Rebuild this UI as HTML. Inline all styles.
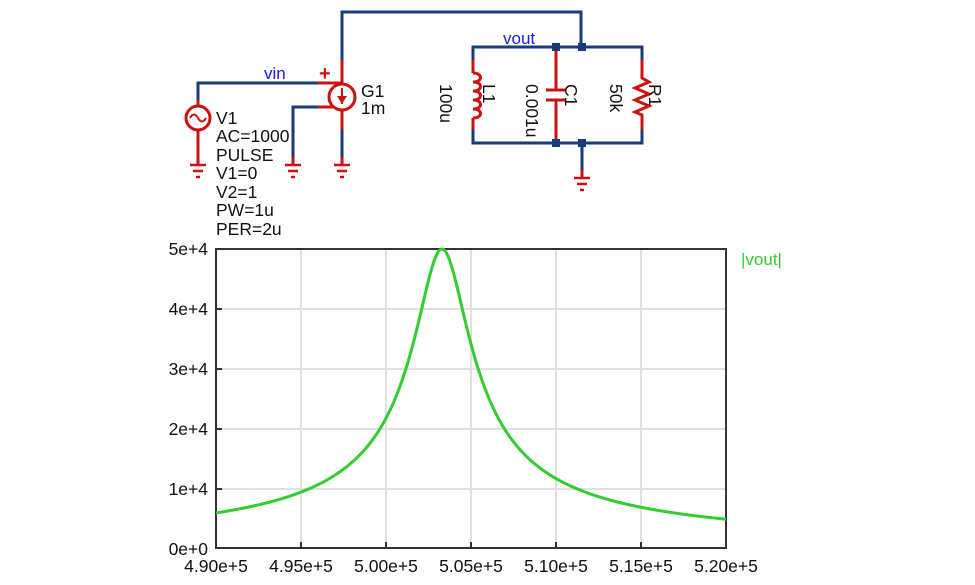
<!DOCTYPE html>
<html><head><style>
html,body{margin:0;padding:0;background:#fff;}
svg{display:block;font-family:"Liberation Sans",sans-serif;}
</style></head><body>
<svg width="975" height="585" viewBox="0 0 975 585" xmlns="http://www.w3.org/2000/svg">
<g fill="none" stroke-width="3">
<g stroke="#1a3a7a">
<polyline points="342,60 342,12 581,12 581,47"/>
<polyline points="198,100 198,83 318,83"/>
<polyline points="318,107 293,107 293,157"/>
<line x1="342" y1="130" x2="342" y2="157"/>
<polyline points="473,60 473,47 642,47 642,60"/>
<polyline points="473,130 473,143 642,143 642,130"/>
<line x1="582" y1="143" x2="582" y2="170"/>
</g>
<g stroke="#cc1111">
<line x1="318" y1="83" x2="342" y2="83"/>
<line x1="342" y1="60" x2="342" y2="84"/>
<circle cx="342" cy="97" r="13"/>
<line x1="318" y1="107" x2="333" y2="107"/>
<line x1="342" y1="110" x2="342" y2="130"/>
<line x1="342" y1="88" x2="342" y2="104" stroke-width="2"/>
<circle cx="198" cy="118" r="12"/>
<line x1="198" y1="100" x2="198" y2="106"/>
<line x1="198" y1="130" x2="198" y2="165"/>
<path d="M190,118 q4,-7 8,0 q4,7 8,0" stroke-width="2"/>
<line x1="293" y1="157" x2="293" y2="165"/>
<line x1="342" y1="157" x2="342" y2="165"/>
<line x1="473" y1="60" x2="473" y2="73"/>
<path d="M473,73 c10,0 10,9 0,9 c10,0 10,9 0,9 c10,0 10,9 0,9 c10,0 10,9 0,9 c10,0 10,9 0,9" />
<line x1="473" y1="118" x2="473" y2="130"/>
<line x1="556" y1="47" x2="556" y2="90"/>
<line x1="546" y1="90" x2="566" y2="90"/>
<line x1="546" y1="100" x2="566" y2="100"/>
<line x1="556" y1="100" x2="556" y2="143"/>
<polyline points="642,60 642,78 649,82 635,88 649,94 635,100 649,106 635,112 642,115 642,130"/>
<line x1="582" y1="170" x2="582" y2="178"/>
</g>
<g stroke="#cc1111" stroke-width="2.5">
<path d="M190,165h16M193,171h10M196,177h4"/>
<path d="M285,165h16M288,171h10M291,177h4"/>
<path d="M334,165h16M337,171h10M340,177h4"/>
<path d="M574,178h16M577,184h10M580,190h4"/>
</g>
</g>
<polygon points="337,96 347,96 342,104" fill="#cc1111"/>
<g fill="#1a3a7a"><rect x="552" y="43" width="8" height="8"/><rect x="578" y="43" width="8" height="8"/><rect x="552" y="139" width="8" height="8"/><rect x="578" y="139" width="8" height="8"/></g>
<text x="319" y="80" fill="#cc1111" font-size="20" font-weight="bold">+</text>
<text x="264" y="79" fill="#1a1aee" font-size="17">vin</text>
<text x="503" y="44" fill="#1a1aee" font-size="17">vout</text>
<g font-size="17.5" fill="#111">
<text x="361" y="97">G1</text><text x="361" y="114">1m</text>
<text x="216" y="124">V1</text><text x="216" y="142">AC=1000</text><text x="216" y="161">PULSE</text>
<text x="216" y="179">V1=0</text><text x="216" y="198">V2=1</text><text x="216" y="216">PW=1u</text><text x="216" y="235">PER=2u</text>
<text transform="translate(483,84) rotate(90)">L1</text>
<text transform="translate(440,84) rotate(90)">100u</text>
<text transform="translate(565,84) rotate(90)">C1</text>
<text transform="translate(526,84) rotate(90)">0.001u</text>
<text transform="translate(649,84) rotate(90)">R1</text>
<text transform="translate(610,84) rotate(90)">50k</text>
</g>
<g stroke="#e0e0e0" stroke-width="2">
<path d="M301,249V548M386,249V548M471,249V548M556,249V548M641,249V548M216,309H726M216,369H726M216,429H726M216,489H726"/>
</g>
<g stroke="#333" stroke-width="2">
<rect x="216" y="249" width="510" height="299" fill="none"/>
<path d="M216,309h6M216,369h6M216,429h6M216,489h6M301,548v-6M386,548v-6M471,548v-6M556,548v-6M641,548v-6"/>
</g>
<path id="curve" fill="none" stroke="#33cc33" stroke-width="3" d=""/>
<g font-size="17.5" fill="#111" text-anchor="end">
<text x="208" y="255">5e+4</text><text x="208" y="315">4e+4</text><text x="208" y="375">3e+4</text>
<text x="208" y="435">2e+4</text><text x="208" y="495">1e+4</text><text x="208" y="555">0e+0</text>
</g>
<g font-size="17.5" fill="#111" text-anchor="middle">
<text x="216" y="572">4.90e+5</text><text x="301" y="572">4.95e+5</text><text x="386" y="572">5.00e+5</text>
<text x="471" y="572">5.05e+5</text><text x="556" y="572">5.10e+5</text><text x="641" y="572">5.15e+5</text><text x="726" y="572">5.20e+5</text>
</g>
<text x="741" y="265" fill="#33cc33" font-size="17">|vout|</text>
</svg>
<script>
var d="";for(var i=0;i<=510;i++){var f=490000+i*30000/510,w=2*Math.PI*f;var x=50000*(w*1e-9-1/(w*1e-4));var z=50000/Math.sqrt(1+x*x);var y=548-z*299/50000;d+=(i?"L":"M")+(216+i)+","+y.toFixed(2);}
document.getElementById("curve").setAttribute("d",d);
</script>
</body></html>
